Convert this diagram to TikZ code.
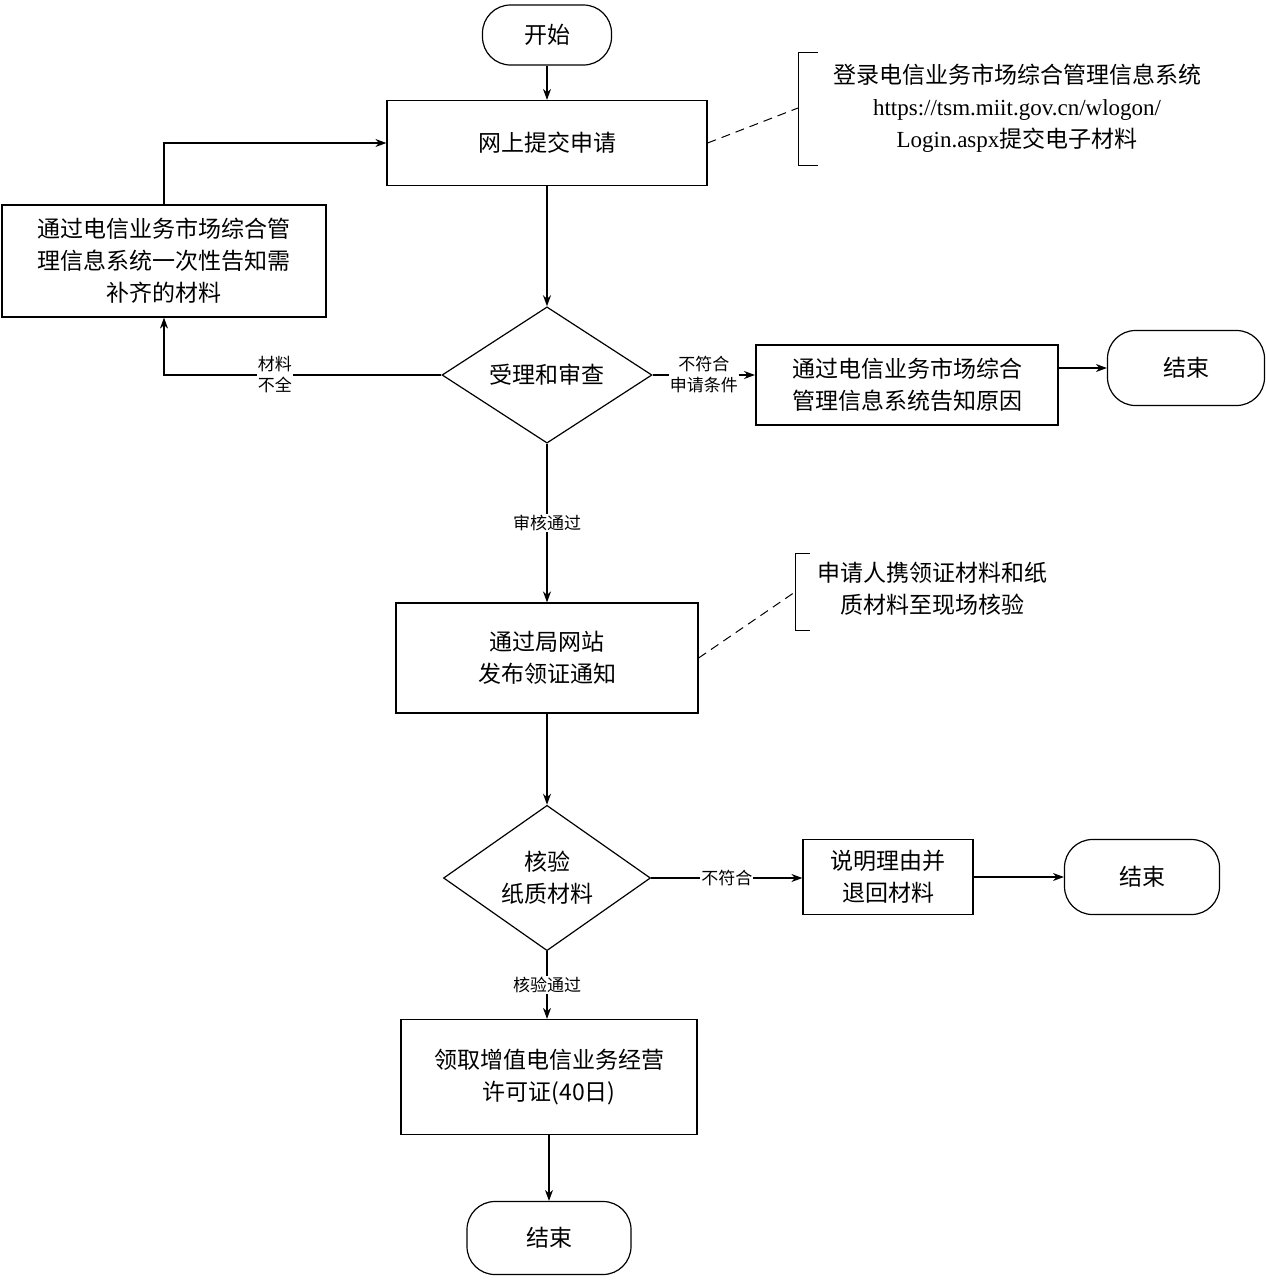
\documentclass[tikz,border=0pt]{standalone}
\usepackage{fontspec}
\setmainfont{Liberation Serif}
\newfontfamily\cjk{Noto Sans CJK SC}
\usetikzlibrary{shapes.geometric,arrows.meta,calc}
\begin{document}
\begin{tikzpicture}[x=1pt,y=-1pt,
  every node/.style={font=\cjk\fontsize{23}{32}\selectfont},
  box/.style={draw,line width=1.2pt,inner sep=0pt,align=center},
  term/.style={draw,line width=1.2pt,rounded corners=28pt,inner sep=0pt},
  dia/.style={draw,line width=1.2pt,diamond,inner sep=0pt,align=center},
  arr/.style={line width=1.4pt,-{Stealth[length=11pt,width=8pt]}},
  lab/.style={fill=white,inner sep=1pt,align=center,font=\cjk\fontsize{17}{21}\selectfont},
  dsh/.style={line width=1pt,dash pattern=on 9pt off 6pt}]
\useasboundingbox (0,0) rectangle (1266,1280);
\node[term,minimum width=129pt,minimum height=60pt] (start) at (547,35) {开始};
\node[box,minimum width=320pt,minimum height=85pt] (apply) at (547,143) {网上提交申请};
\node[box,minimum width=324pt,minimum height=112pt] (supp) at (164,261) {通过电信业务市场综合管\\理信息系统一次性告知需\\补齐的材料};
\node[dia,minimum width=210pt,minimum height=126pt] (d1) at (547,375) {受理和审查};
\node[box,line width=2pt,minimum width=302pt,minimum height=80pt] (reason) at (907,385) {通过电信业务市场综合\\管理信息系统告知原因};
\node[term,minimum width=157pt,minimum height=75pt] (end1) at (1186,368) {结束};
\node[box,minimum width=302pt,minimum height=110pt] (notice) at (547,658) {通过局网站\\发布领证通知};
\node[dia,minimum width=207pt,minimum height=120pt] (d2) at (547,878) {核验\\纸质材料};
\node[box,minimum width=170pt,minimum height=75pt] (ret) at (888,877) {说明理由并\\退回材料};
\node[term,minimum width=155pt,minimum height=75pt] (end2) at (1142,877) {结束};
\node[box,minimum width=296pt,minimum height=115pt] (lic) at (549,1077) {领取增值电信业务经营\\许可证(40日)};
\node[term,minimum width=164pt,minimum height=73pt] (end3) at (549,1238) {结束};
% annotations
\coordinate (b1t) at (798,52); \coordinate (b1b) at (798,165);
\draw[line width=1pt] ($(b1t)+(20,0)$) -- (b1t) -- (b1b) -- ($(b1b)+(20,0)$);
\node[align=center] (ann1) at (1017,108) {登录电信业务市场综合管理信息系统\\{\rmfamily https://tsm.miit.gov.cn/wlogon/}\\{\rmfamily Login.aspx}提交电子材料};
\coordinate (a1) at (798,108);
\draw[dsh] (apply.east) -- (a1);
\coordinate (b2t) at (795,553); \coordinate (b2b) at (795,630);
\draw[line width=1pt] ($(b2t)+(15,0)$) -- (b2t) -- (b2b) -- ($(b2b)+(15,0)$);
\node[align=center] (ann2) at (932,589) {申请人携领证材料和纸\\质材料至现场核验};
\coordinate (a2) at (795,592);
\draw[dsh] (notice.east) -- (a2);
% arrows
\draw[arr] (start) -- (apply);
\draw[arr] (apply) -- (d1.north);
\draw[arr] (supp.north) |- (apply.west);
\draw[arr] (d1.west) -| node[lab,pos=0.3]{材料\\不全} (supp.south);
\draw[arr] (d1.east) -- node[lab]{不符合\\申请条件} (reason.west |- d1.east);
\draw[arr] (reason.east |- end1) -- (end1);
\draw[arr] (d1.south) -- node[lab]{审核通过} (notice.north);
\draw[arr] (notice.south) -- (d2.north);
\draw[arr] (d2.east) -- node[lab]{不符合} (ret.west |- d2.east);
\draw[arr] (ret.east |- end2) -- (end2);
\draw[arr] (d2.south) -- node[lab]{核验通过} (lic.north -| d2.south);
\draw[arr] (lic.south -| end3) -- (end3);
\end{tikzpicture}
\end{document}
